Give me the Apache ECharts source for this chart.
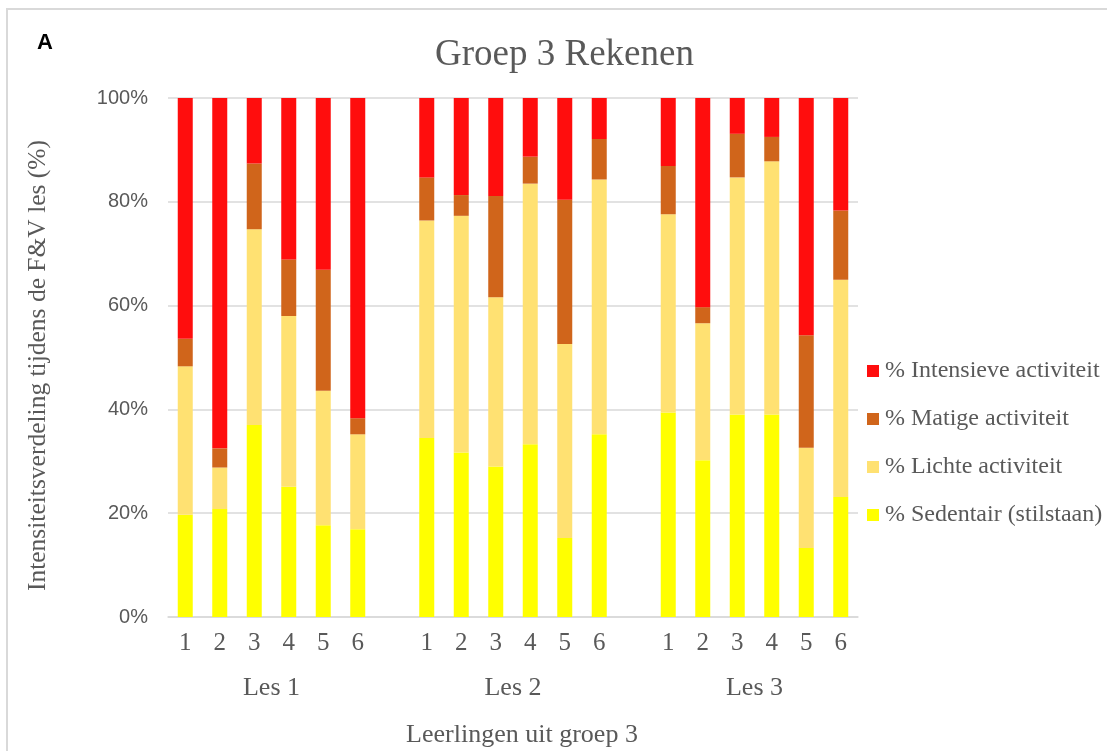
<!DOCTYPE html>
<html>
<head>
<meta charset="utf-8">
<script src="https://cdn.jsdelivr.net/npm/echarts@6/dist/echarts.min.js"></script>
<style>
  html, body { margin: 0; padding: 0; background: #fff; }
  #main { width: 1107px; height: 751px; }
</style>
</head>
<body>
<div id="main"></div>
<script>
// leerlingen per les (1..6), drie lessen
var lessen = ['Les 1', 'Les 2', 'Les 3'];
var leerlingen = ['1', '2', '3', '4', '5', '6'];

// percentages per leerling, Les 1 | Les 2 | Les 3
var sedentair = [19.7, 20.8, 37.0, 25.1, 17.7, 16.9,  34.5, 31.7, 29.0, 33.3, 15.2, 35.2,  39.4, 30.2, 39.0, 39.0, 13.3, 23.1];
var licht     = [28.6,  8.0, 37.7, 32.9, 25.9, 18.3,  41.9, 45.6, 32.6, 50.2, 37.4, 49.1,  38.2, 26.4, 45.7, 48.8, 19.3, 41.9];
var matig     = [ 5.3,  3.7, 12.7, 10.9, 23.3,  3.1,   8.3,  4.0, 19.5,  5.2, 27.8,  7.8,   9.3,  3.1,  8.4,  4.7, 21.7, 13.3];
var intensief = [46.4, 67.5, 12.6, 31.1, 33.1, 61.7,  15.3, 18.7, 18.9, 11.3, 19.6,  7.9,  13.1, 40.3,  6.9,  7.5, 45.7, 21.7];

var myChart = echarts.init(document.getElementById('main'));

// categorieen met een lege plek tussen de lessen
var categories = [];
lessen.forEach(function (l, i) {
  if (i > 0) categories.push('');
  leerlingen.forEach(function (n) { categories.push(n); });
});

function metGaten(arr) {
  var out = [];
  lessen.forEach(function (l, i) {
    if (i > 0) out.push('-');
    for (var j = 0; j < leerlingen.length; j++) out.push(arr[i * leerlingen.length + j]);
  });
  return out;
}

// midden van elke les op de 'value' as (slot-eenheden)
var lesMidden = lessen.map(function (l, i) { return i * (leerlingen.length + 1) + leerlingen.length / 2; });

var serif = 'Liberation Serif';
var grijs = '#595959';

var option = {
  title: {
    text: 'Groep 3 Rekenen',
    left: 430,
    top: 32,
    textStyle: { fontFamily: serif, fontSize: 37, fontWeight: 'normal', color: grijs }
  },
  graphic: [
    {
      type: 'rect',
      shape: { x: 7, y: 9, width: 1200, height: 800 },
      style: { fill: 'none', stroke: '#d9d9d9', lineWidth: 2 },
      silent: true
    },
    {
      type: 'text',
      left: 37,
      top: 32,
      style: { text: 'A', font: 'bold 22px "Liberation Sans"', fill: '#000' }
    }
  ],
  legend: {
    orient: 'vertical',
    left: 862,
    top: 354,
    itemWidth: 12,
    itemHeight: 12,
    itemGap: 24,
    icon: 'rect',
    data: ['% Intensieve activiteit', '% Matige activiteit', '% Lichte activiteit', '% Sedentair (stilstaan)'],
    textStyle: { fontFamily: serif, fontSize: 24, color: grijs, padding: [0, 0, 0, 1] }
  },
  grid: { left: 168, right: 249, top: 98, bottom: 134, outerBoundsMode: 'none' },
  xAxis: [
    {
      type: 'category',
      data: categories,
      axisLine: { lineStyle: { color: '#d9d9d9', width: 1.5 } },
      axisTick: { show: false },
      axisLabel: { fontFamily: serif, fontSize: 25, color: grijs, margin: 14, interval: 0 }
    },
    {
      type: 'value',
      position: 'bottom',
      min: 0,
      max: categories.length,
      axisLine: { show: false },
      axisTick: { show: false },
      splitLine: { show: false },
      axisLabel: {
        fontFamily: serif, fontSize: 26, color: grijs, margin: 58,
        customValues: lesMidden,
        formatter: function (v) { return lessen[lesMidden.indexOf(v)]; }
      },
      name: 'Leerlingen uit groep 3',
      nameLocation: 'middle',
      nameGap: 105,
      nameTextStyle: { fontFamily: serif, fontSize: 26, color: grijs, padding: [0, 0, 0, 18] }
    }
  ],
  yAxis: {
    type: 'value',
    min: 0,
    max: 100,
    interval: 20,
    axisLine: { show: false },
    axisTick: { show: false },
    splitLine: { lineStyle: { color: '#d9d9d9', width: 1.5 } },
    axisLabel: {
      fontFamily: 'Liberation Sans', fontSize: 20, color: grijs, margin: 20,
      formatter: '{value}%'
    },
    name: 'Intensiteitsverdeling tijdens de F&V les (%)',
    nameLocation: 'middle',
    nameGap: 117,
    nameTextStyle: { fontFamily: serif, fontSize: 25.5, color: grijs, padding: [0, 16, 0, 0] }
  },
  series: [
    { name: '% Sedentair (stilstaan)', type: 'bar', stack: 'tot', barWidth: 15, data: metGaten(sedentair), itemStyle: { color: '#FFFF00' } },
    { name: '% Lichte activiteit', type: 'bar', stack: 'tot', barWidth: 15, data: metGaten(licht), itemStyle: { color: '#FFE172' } },
    { name: '% Matige activiteit', type: 'bar', stack: 'tot', barWidth: 15, data: metGaten(matig), itemStyle: { color: '#D0651B' } },
    { name: '% Intensieve activiteit', type: 'bar', stack: 'tot', barWidth: 15, data: metGaten(intensief), itemStyle: { color: '#FF0D0D' } }
  ]
};

myChart.setOption(option);
</script>
</body>
</html>
